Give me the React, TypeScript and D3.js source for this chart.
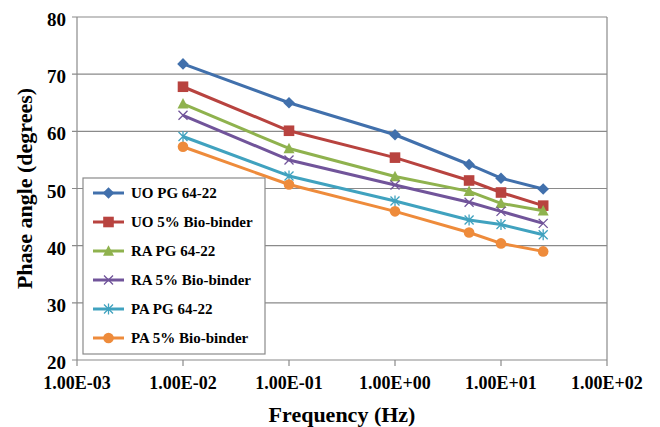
import React from "react";
import * as d3 from "d3";

// frequencies (Hz) and phase angles (degrees)
const frequencies = [0.01, 0.1, 1, 5, 10, 25];
const uoPg = [71.8, 65.0, 59.4, 54.2, 51.8, 49.9];
const uoBio = [67.8, 60.1, 55.4, 51.4, 49.3, 47.0];
const raPg = [64.8, 57.0, 52.1, 49.5, 47.4, 46.1];
const raBio = [62.8, 55.0, 50.6, 47.6, 46.0, 43.9];
const paPg = [59.1, 52.2, 47.8, 44.5, 43.7, 41.9];
const paBio = [57.3, 50.7, 46.0, 42.3, 40.4, 39.0];

const seriesNames = [
  "UO PG 64-22",
  "UO 5% Bio-binder",
  "RA PG 64-22",
  "RA 5% Bio-binder",
  "PA PG 64-22",
  "PA 5% Bio-binder",
];
const seriesValues = [uoPg, uoBio, raPg, raBio, paPg, paBio];
const seriesColors = ["#4170AC", "#B8433F", "#8FB24E", "#71549A", "#40A2BF", "#EE8B3B"];
const markerKinds = ["diamond", "square", "triangle", "cross", "star", "circle"];

const xTicks = [1e-3, 1e-2, 1e-1, 1e0, 1e1, 1e2];
const xTickLabels = ["1.00E-03", "1.00E-02", "1.00E-01", "1.00E+00", "1.00E+01", "1.00E+02"];
const yTicks = [20, 30, 40, 50, 60, 70, 80];

const W = 660;
const H = 427;
const plot = { left: 77, right: 607, top: 17, bottom: 360 };
const serif = "Liberation Serif";
const gridColor = "#8a8a8a";

const Marker = ({ kind, x, y, color }: { kind: string; x: number; y: number; color: string }) => {
  if (kind === "diamond") {
    const r = 5.8;
    return <path d={`M${x},${y - r}L${x + r},${y}L${x},${y + r}L${x - r},${y}Z`} fill={color} />;
  }
  if (kind === "square") {
    const r = 5.3;
    return <rect x={x - r} y={y - r} width={r * 2} height={r * 2} fill={color} />;
  }
  if (kind === "triangle") {
    const r = 5.5;
    return <path d={`M${x},${y - r * 1.05}L${x + r},${y + r * 0.85}L${x - r},${y + r * 0.85}Z`} fill={color} />;
  }
  if (kind === "cross") {
    const r = 4.5;
    return (
      <path
        d={`M${x - r},${y - r}L${x + r},${y + r}M${x - r},${y + r}L${x + r},${y - r}`}
        stroke={color}
        strokeWidth={1.3}
        fill="none"
      />
    );
  }
  if (kind === "star") {
    const r = 4.5;
    return (
      <path
        d={`M${x - r},${y - r}L${x + r},${y + r}M${x - r},${y + r}L${x + r},${y - r}M${x},${y - r - 1}L${x},${y + r + 1}`}
        stroke={color}
        strokeWidth={1.3}
        fill="none"
      />
    );
  }
  return <circle cx={x} cy={y} r={5.3} fill={color} />;
};

export default function App() {
  const x = d3.scaleLog().domain([1e-3, 1e2]).range([plot.left, plot.right]);
  const y = d3.scaleLinear().domain([20, 80]).range([plot.bottom, plot.top]);

  const line = d3
    .line<number>()
    .x((_, i) => x(frequencies[i]))
    .y((d) => y(d));

  const legend = { left: 83, top: 178, width: 182, height: 176, rowGap: 29, firstRow: 193 };

  return (
    <svg
      width={W}
      height={H}
      style={{ position: "absolute", left: 0, top: 0, background: "#fff", fontFamily: serif, fontWeight: "bold" }}
    >
      {/* grid */}
      {yTicks.map((t) => (
        <line key={t} x1={plot.left - 5} x2={plot.right} y1={y(t)} y2={y(t)} stroke={gridColor} strokeWidth={1.2} />
      ))}
      <line x1={plot.right} x2={plot.right} y1={plot.top} y2={plot.bottom} stroke={gridColor} strokeWidth={1.2} />
      <line x1={plot.left} x2={plot.left} y1={plot.top} y2={plot.bottom} stroke={gridColor} strokeWidth={1.2} />
      {xTicks.map((t) => (
        <line key={t} x1={x(t)} x2={x(t)} y1={plot.bottom} y2={plot.bottom + 6} stroke={gridColor} strokeWidth={1.2} />
      ))}

      {/* tick labels */}
      {yTicks.map((t) => (
        <text key={t} x={66} y={y(t) + 9} textAnchor="end" fontSize={19} fill="#000">
          {t}
        </text>
      ))}
      {xTicks.map((t, i) => (
        <text key={t} x={x(t)} y={389} textAnchor="middle" fontSize={18} fill="#000">
          {xTickLabels[i]}
        </text>
      ))}

      {/* axis titles */}
      <text x={(plot.left + plot.right) / 2} y={422} textAnchor="middle" fontSize={22} fill="#000">
        Frequency (Hz)
      </text>
      <text
        transform={`translate(32,${(plot.top + plot.bottom) / 2}) rotate(-90)`}
        textAnchor="middle"
        fontSize={22}
        fill="#000"
      >
        Phase angle (degrees)
      </text>

      {/* series */}
      {seriesValues.map((vals, s) => (
        <g key={seriesNames[s]}>
          <path d={line(vals) ?? ""} fill="none" stroke={seriesColors[s]} strokeWidth={3} strokeLinejoin="round" />
          {vals.map((v, i) => (
            <Marker key={i} kind={markerKinds[s]} x={x(frequencies[i])} y={y(v)} color={seriesColors[s]} />
          ))}
        </g>
      ))}

      {/* legend */}
      <rect
        x={legend.left}
        y={legend.top}
        width={legend.width}
        height={legend.height}
        fill="#fff"
        stroke={gridColor}
        strokeWidth={1.2}
      />
      {seriesNames.map((name, s) => {
        const ly = legend.firstRow + s * legend.rowGap;
        return (
          <g key={name}>
            <line x1={93} x2={124} y1={ly} y2={ly} stroke={seriesColors[s]} strokeWidth={3} />
            <Marker kind={markerKinds[s]} x={108.5} y={ly} color={seriesColors[s]} />
            <text x={131} y={ly + 5} fontSize={15} fill="#000">
              {name}
            </text>
          </g>
        );
      })}
    </svg>
  );
}
